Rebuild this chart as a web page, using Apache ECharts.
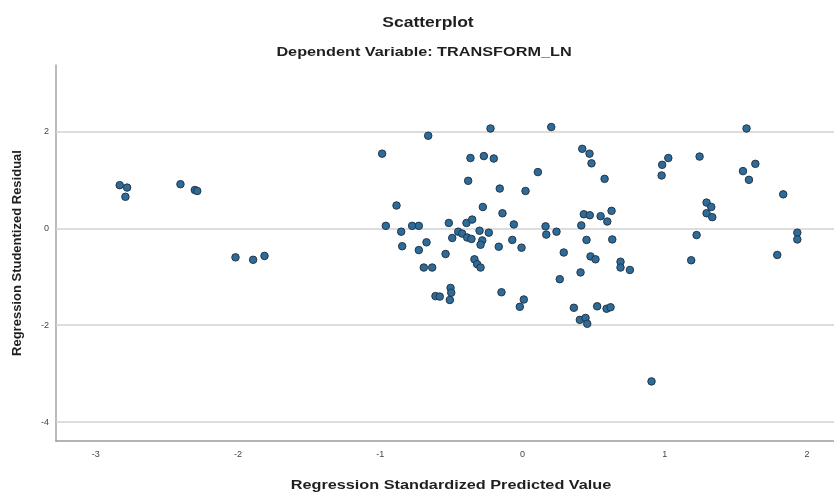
<!DOCTYPE html>
<html>
<head>
<meta charset="utf-8">
<script src="https://cdn.jsdelivr.net/npm/echarts@6/dist/echarts.min.js"></script>
<style>
html,body{margin:0;padding:0;background:#fff;}
#chart{width:834px;height:493px;}
</style>
</head>
<body>
<div id="chart"></div>
<script>
// Regression Standardized Predicted Value (x)
const predicted = [
  -2.832, -2.780, -2.792, -2.405, -2.304, -2.287, -2.018, -1.894, -1.814,
  -0.225, -0.663, -0.987, -0.366, -0.272, -0.202, 0.108, -0.382, -0.160, 0.021,
  -0.886, -0.279, -0.141, -0.961, -0.853, -0.776, -0.729, -0.518, -0.394, -0.354,
  -0.061, -0.452, -0.302, -0.237,
  -0.424, -0.389, -0.359, -0.494, -0.283, -0.295, -0.675, -0.846, -0.729, -0.541,
  -0.167, -0.072, -0.007, -0.338, -0.319, -0.295, -0.694, -0.635, -0.506, -0.501,
  -0.511, -0.612, -0.582, -0.148, 0.009, -0.019,
  0.202, 0.420, 0.471, 0.485, 0.577, 1.025, 0.982, 0.978, 1.245, 0.431, 0.473,
  0.549, 0.626, 0.596, 0.413, 0.162, 0.239,
  0.167, 0.450, 0.631, 0.290, 0.478, 0.513, 0.689, 0.689, 0.755, 0.408, 0.262,
  1.186, 0.361, 0.525, 0.591, 0.619, 0.403, 0.443, 0.455, 0.907,
  1.575, 1.637, 1.550, 1.592, 1.833, 1.294, 1.327, 1.294, 1.334, 1.224, 1.932,
  1.932, 1.791
];
// Regression Studentized Residual (y)
const residual = [
  0.89, 0.84, 0.65, 0.91, 0.79, 0.77, -0.60, -0.65, -0.57,
  2.06, 1.91, 1.54, 1.45, 1.49, 1.44, 1.16, 0.98, 0.82, 0.77,
  0.47, 0.44, 0.31, 0.05, -0.07, 0.05, 0.05, 0.11, 0.11, 0.18,
  0.08, -0.07, -0.05, -0.09,
  -0.11, -0.19, -0.22, -0.20, -0.25, -0.34, -0.29, -0.37, -0.45, -0.53,
  -0.38, -0.24, -0.40, -0.64, -0.74, -0.81, -0.81, -0.81, -1.23, -1.33,
  -1.48, -1.40, -1.41, -1.32, -1.47, -1.62,
  2.09, 1.64, 1.54, 1.34, 1.02, 1.45, 1.31, 1.09, 1.48, 0.29, 0.27,
  0.25, 0.36, 0.14, 0.06, 0.04, -0.07,
  -0.13, -0.24, -0.23, -0.50, -0.58, -0.64, -0.69, -0.81, -0.86, -0.91, -1.05,
  -0.66, -1.64, -1.61, -1.66, -1.63, -1.89, -1.85, -1.97, -3.16,
  2.06, 1.33, 1.18, 1.00, 0.70, 0.53, 0.44, 0.31, 0.23, -0.14, -0.09,
  -0.23, -0.55
];
const xTickValues = [-3, -2, -1, 0, 1, 2];
const yTickValues = [-4, -2, 0, 2];
const titleText = 'Scatterplot';
const subtitleText = 'Dependent Variable: TRANSFORM_LN';
const xAxisTitle = 'Regression Standardized Predicted Value';
const yAxisTitle = 'Regression Studentized Residual';

const points = predicted.map((x, i) => [x, residual[i]]);

const chart = echarts.init(document.getElementById('chart'), null, {renderer: 'canvas'});
const fontFam = '"Liberation Sans", Arial, sans-serif';
function stretchedText(text, x, y, size) {
  return {
    type: 'text', x: x, y: y, scaleX: 1.25, scaleY: 1, silent: true,
    style: {
      text: text, font: 'bold ' + size + 'px ' + fontFam, fill: '#1f1f1f',
      align: 'center', verticalAlign: 'middle',
      textAlign: 'center', textVerticalAlign: 'middle'
    }
  };
}
chart.setOption({
  animation: false,
  backgroundColor: '#ffffff',
  graphic: [
    stretchedText(titleText, 428, 23, 14),
    stretchedText(subtitleText, 424, 52, 13),
    stretchedText(xAxisTitle, 451, 485, 13)
  ],
  grid: {left: 56, right: 0, top: 65, bottom: 52, containLabel: false},
  xAxis: {
    type: 'value', min: -3.28, max: 2.19,
    axisLine: {show: true, onZero: false, lineStyle: {color: '#9a9a9a', width: 1.5}},
    axisTick: {show: false},
    splitLine: {show: false},
    axisLabel: {customValues: xTickValues, fontFamily: fontFam, fontSize: 9, color: '#444', margin: 9}
  },
  yAxis: {
    type: 'value', min: -4.39, max: 3.37,
    name: yAxisTitle,
    nameLocation: 'middle', nameGap: 32, nameRotate: 90,
    nameTextStyle: {fontFamily: fontFam, fontSize: 13, fontWeight: 'bold', color: '#1f1f1f'},
    axisLine: {show: true, onZero: false, lineStyle: {color: '#a5a5a5', width: 1.5}},
    axisTick: {show: false},
    splitLine: {show: false},
    axisLabel: {customValues: yTickValues, fontFamily: fontFam, fontSize: 9, color: '#444', margin: 7}
  },
  series: [{
    type: 'scatter',
    data: points,
    symbol: 'circle',
    symbolSize: 7.5,
    itemStyle: {color: '#2d6b98', borderColor: '#24364a', borderWidth: 1, opacity: 1},
    markLine: {
      silent: true,
      symbol: ['none', 'none'],
      label: {show: false},
      z: 1,
      lineStyle: {color: '#d2d2d2', width: 1.5, type: 'solid'},
      data: yTickValues.map(v => ({yAxis: v}))
    },
    z: 3
  }]
});
</script>
</body>
</html>
